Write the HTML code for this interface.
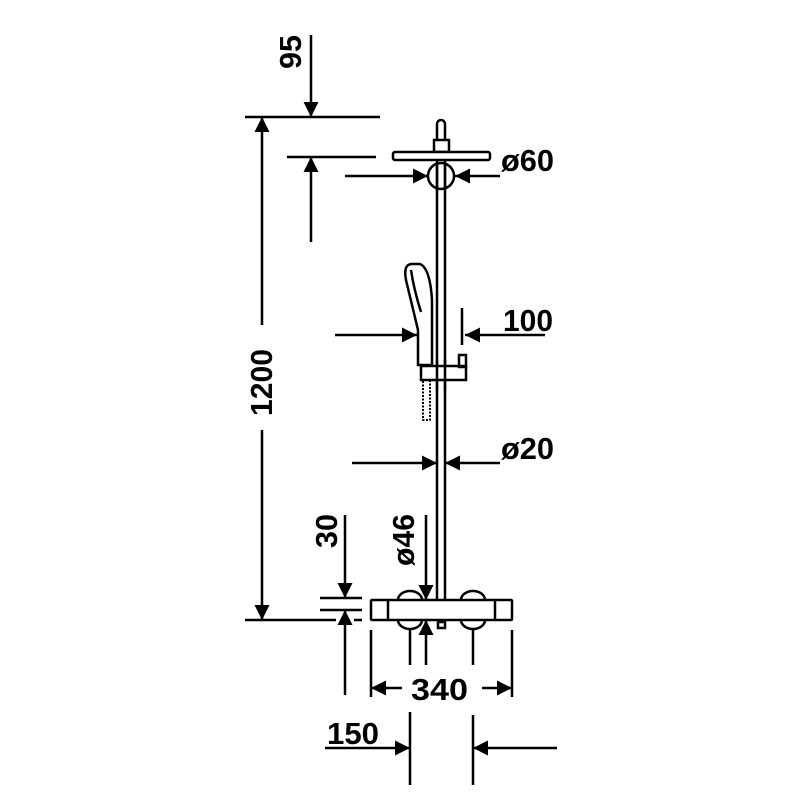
<!DOCTYPE html>
<html><head><style>body{margin:0;background:#fff}svg{display:block}text{font-family:"Liberation Sans Narrow","Liberation Sans",sans-serif;font-weight:bold;font-size:31px;fill:#000}</style></head>
<body>
<svg width="800" height="800" viewBox="0 0 800 800" xmlns="http://www.w3.org/2000/svg">
<defs>
<marker id="a" viewBox="0 0 10 10" refX="10" refY="5" markerWidth="26" markerHeight="15" markerUnits="userSpaceOnUse" orient="auto"><path d="M0,0L10,5L0,10z"/></marker>
</defs>
<g stroke="#000" stroke-width="2.5" fill="none">
<!-- pole -->
<line x1="437" y1="145" x2="437" y2="600"/><line x1="445" y1="145" x2="445" y2="600"/>
<path d="M437,140V124a4,4 0 0 1 8,0V140" fill="#fff"/>
<rect x="434" y="140" width="15" height="12" fill="#fff"/>
<rect x="393" y="152" width="97" height="8" rx="2" fill="#fff"/>
<circle cx="441" cy="176" r="13"/>
<line x1="437" y1="163" x2="437" y2="189"/><line x1="445" y1="163" x2="445" y2="189"/>
<!-- hand shower -->
<path d="M412,264 Q403,264 406,280 Q412,305 418,330 L418,365 L432,365 L432,300 Q430,268 420,264 Z" fill="#fff"/>
<path d="M411,270 Q414,290 421,312"/>
<rect x="421" y="366" width="45" height="14" fill="#fff"/>
<rect x="459" y="355" width="7" height="12"/>
<rect x="423" y="380" width="7" height="40" stroke-width="2" stroke-dasharray="2 1.5"/>
<line x1="437" y1="360" x2="437" y2="390"/><line x1="445" y1="360" x2="445" y2="390"/>
<!-- thermostat -->
<path d="M398,600 a12,9 0 0 1 24,0 M461,600 a12,9 0 0 1 24,0" fill="#fff"/>
<path d="M398,620 a12,9 0 0 0 24,0 M461,620 a12,9 0 0 0 24,0" fill="#fff"/>
<rect x="371" y="600" width="141" height="20" rx="1" fill="#fff"/>
<line x1="388" y1="600" x2="388" y2="620"/><line x1="495" y1="600" x2="495" y2="620"/>
<rect x="438" y="622" width="7" height="6"/>
<!-- 95 -->
<line x1="245" y1="117" x2="380" y2="117"/>
<line x1="287" y1="157" x2="376" y2="157"/>
<line x1="311" y1="35" x2="311" y2="117" marker-end="url(#a)"/>
<line x1="311" y1="242" x2="311" y2="157" marker-end="url(#a)"/>
<!-- 1200 -->
<line x1="262" y1="325" x2="262" y2="117" marker-end="url(#a)"/>
<line x1="262" y1="430" x2="262" y2="620" marker-end="url(#a)"/>
<line x1="245" y1="620" x2="336" y2="620"/><line x1="354" y1="620" x2="362" y2="620"/>
<!-- ø60 -->
<line x1="345" y1="176" x2="428" y2="176" marker-end="url(#a)"/>
<line x1="500" y1="176" x2="455" y2="176" marker-end="url(#a)"/>
<!-- 100 -->
<line x1="335" y1="335" x2="417" y2="335" marker-end="url(#a)"/>
<line x1="545" y1="335" x2="465" y2="335" marker-end="url(#a)"/>
<line x1="462" y1="308" x2="462" y2="345"/>
<!-- ø20 -->
<line x1="352" y1="463" x2="437" y2="463" marker-end="url(#a)"/>
<line x1="500" y1="463" x2="445" y2="463" marker-end="url(#a)"/>
<!-- ø46 -->
<line x1="426" y1="515" x2="426" y2="600" marker-end="url(#a)"/>
<line x1="426" y1="665" x2="426" y2="620" marker-end="url(#a)"/>
<!-- 30 -->
<line x1="320" y1="598" x2="362" y2="598"/><line x1="320" y1="610" x2="362" y2="610"/>
<line x1="345" y1="515" x2="345" y2="598" marker-end="url(#a)"/>
<line x1="345" y1="695" x2="345" y2="610" marker-end="url(#a)"/>
<!-- 340 -->
<line x1="371" y1="630" x2="371" y2="697"/><line x1="512" y1="630" x2="512" y2="697"/>
<line x1="410" y1="630" x2="410" y2="665"/><line x1="473" y1="630" x2="473" y2="665"/>
<line x1="410" y1="712" x2="410" y2="785"/><line x1="473" y1="715" x2="473" y2="785"/>
<line x1="402" y1="688" x2="371" y2="688" marker-end="url(#a)"/>
<line x1="482" y1="688" x2="512" y2="688" marker-end="url(#a)"/>
<!-- 150 -->
<line x1="325" y1="748" x2="410" y2="748" marker-end="url(#a)"/>
<line x1="557" y1="748" x2="473" y2="748" marker-end="url(#a)"/>
</g>
<text x="501" y="171" textLength="53" lengthAdjust="spacingAndGlyphs">ø60</text>
<text x="503" y="331" textLength="50" lengthAdjust="spacingAndGlyphs">100</text>
<text x="501" y="459" textLength="53" lengthAdjust="spacingAndGlyphs">ø20</text>
<text x="411" y="700" textLength="57" lengthAdjust="spacingAndGlyphs">340</text>
<text x="327" y="744" textLength="52" lengthAdjust="spacingAndGlyphs">150</text>
<text transform="translate(301,69) rotate(-90)" textLength="34" lengthAdjust="spacingAndGlyphs">95</text>
<text transform="translate(272,416) rotate(-90)" textLength="67" lengthAdjust="spacingAndGlyphs">1200</text>
<text transform="translate(337,548) rotate(-90)" textLength="34" lengthAdjust="spacingAndGlyphs">30</text>
<text transform="translate(414,566) rotate(-90)" textLength="52" lengthAdjust="spacingAndGlyphs">ø46</text>
</svg>
</body></html>
